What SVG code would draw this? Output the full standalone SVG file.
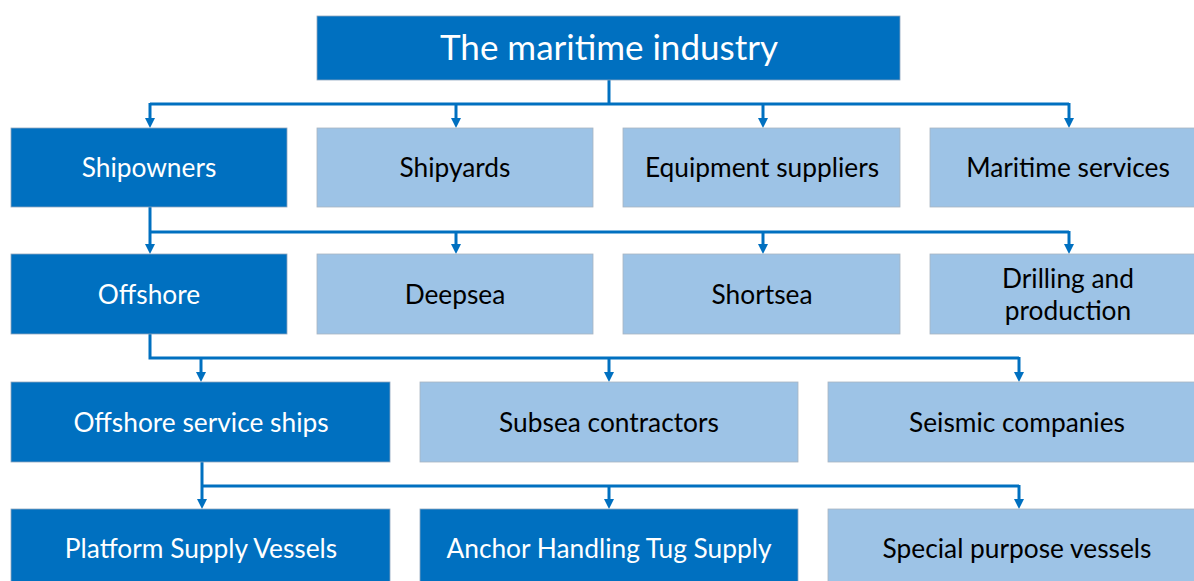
<svg xmlns="http://www.w3.org/2000/svg" width="1194" height="581" viewBox="0 0 1194 581">
  <style>
    .dark { fill: #0070C0; stroke: #8fa6bd; stroke-width: 0.8; }
    .light { fill: #9DC3E6; stroke: #a9b4c0; stroke-width: 0.8; }
    text { font-family: Lato, "Open Sans", sans-serif; font-size: 26.3px; text-anchor: middle; }
    .wt { fill: #ffffff; }
    .bt { fill: #000000; }
    .title { font-size: 35px; }
    .conn { fill: none; stroke: #0070C0; stroke-width: 3; stroke-linejoin: miter; }
    .arr { fill: none; stroke: #0070C0; stroke-width: 3; marker-end: url(#head); }
  </style>
  <defs>
    <marker id="head" markerUnits="userSpaceOnUse" viewBox="0 0 10 10" refX="0" refY="5" markerWidth="10" markerHeight="11" orient="auto">
      <path d="M0,0 L10,5 L0,10 z" fill="#0070C0"/>
    </marker>
  </defs>

  <!-- connectors -->
  <g id="connectors">
    <!-- level 0 to level 1 -->
    <path class="conn" d="M609 80 V104"/>
    <path class="conn" d="M150 104 H1069"/>
    <path class="arr" d="M150 103 V118"/>
    <path class="arr" d="M456 104 V118"/>
    <path class="arr" d="M763 104 V118"/>
    <path class="arr" d="M1069 103 V118"/>
    <!-- shipowners to segments -->
    <path class="conn" d="M150 232 H1069"/>
    <path class="arr" d="M150 207 V244"/>
    <path class="arr" d="M456 232 V244"/>
    <path class="arr" d="M763 232 V244"/>
    <path class="arr" d="M1069 231 V244"/>
    <!-- offshore to company types -->
    <path class="conn" d="M150 334 V358 H1019"/>
    <path class="arr" d="M201 358 V372"/>
    <path class="arr" d="M609 358 V372"/>
    <path class="arr" d="M1019 357 V372"/>
    <!-- service ships to vessel types -->
    <path class="conn" d="M202 486 H1019"/>
    <path class="arr" d="M202 462 V499"/>
    <path class="arr" d="M609 486 V499"/>
    <path class="arr" d="M1019 485 V499"/>
  </g>

  <g id="maritime-industry">
    <rect class="dark" x="317" y="16" width="583" height="64"/>
    <text class="wt title" x="609" y="60">The maritime industry</text>
  </g>

  <g id="shipowners">
    <rect class="dark" x="11" y="128" width="276" height="79"/>
    <text class="wt" x="149" y="177">Shipowners</text>
  </g>
  <g id="shipyards">
    <rect class="light" x="317" y="128" width="276" height="79"/>
    <text class="bt" x="455" y="177">Shipyards</text>
  </g>
  <g id="equipment-suppliers">
    <rect class="light" x="623" y="128" width="277" height="79"/>
    <text class="bt" x="762" y="177">Equipment suppliers</text>
  </g>
  <g id="maritime-services">
    <rect class="light" x="930" y="128" width="276" height="79"/>
    <text class="bt" x="1068" y="177">Maritime services</text>
  </g>

  <g id="offshore">
    <rect class="dark" x="11" y="254" width="276" height="80"/>
    <text class="wt" x="149" y="304">Offshore</text>
  </g>
  <g id="deepsea">
    <rect class="light" x="317" y="254" width="276" height="80"/>
    <text class="bt" x="455" y="304">Deepsea</text>
  </g>
  <g id="shortsea">
    <rect class="light" x="623" y="254" width="277" height="80"/>
    <text class="bt" x="762" y="304">Shortsea</text>
  </g>
  <g id="drilling-production">
    <rect class="light" x="930" y="254" width="276" height="80"/>
    <text class="bt" x="1068" y="288">Drilling and</text>
    <text class="bt" x="1068" y="320">production</text>
  </g>

  <g id="offshore-service-ships">
    <rect class="dark" x="11" y="382" width="379" height="80"/>
    <text class="wt" x="201" y="432">Offshore service ships</text>
  </g>
  <g id="subsea-contractors">
    <rect class="light" x="420" y="382" width="378" height="80"/>
    <text class="bt" x="609" y="432">Subsea contractors</text>
  </g>
  <g id="seismic-companies">
    <rect class="light" x="828" y="382" width="379" height="80"/>
    <text class="bt" x="1017" y="432">Seismic companies</text>
  </g>

  <g id="platform-supply-vessels">
    <rect class="dark" x="11" y="509" width="379" height="80"/>
    <text class="wt" x="201" y="558">Platform Supply Vessels</text>
  </g>
  <g id="anchor-handling-tug-supply">
    <rect class="dark" x="420" y="509" width="378" height="80"/>
    <text class="wt" x="609" y="558">Anchor Handling Tug Supply</text>
  </g>
  <g id="special-purpose-vessels">
    <rect class="light" x="828" y="509" width="379" height="80"/>
    <text class="bt" x="1017" y="558">Special purpose vessels</text>
  </g>
</svg>
